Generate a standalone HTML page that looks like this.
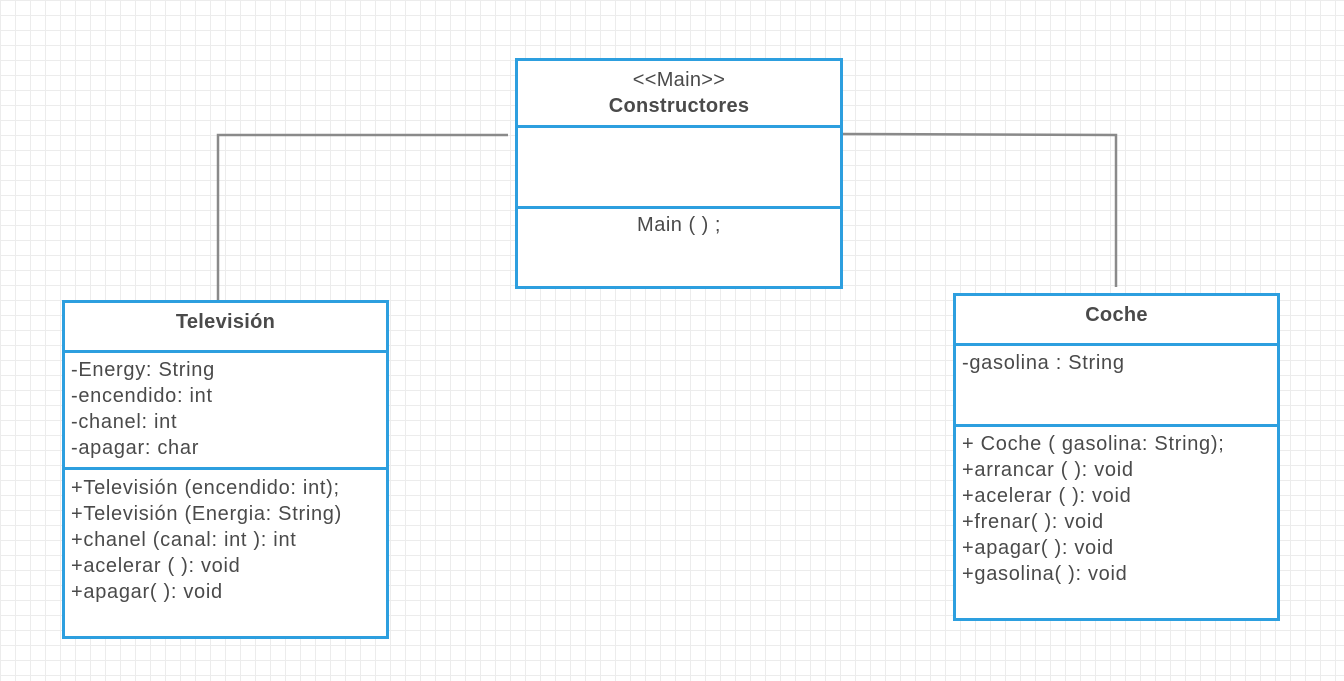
<!DOCTYPE html>
<html><head><meta charset="utf-8"><style>
html,body{margin:0;padding:0}
body{width:1344px;height:681px;position:relative;overflow:hidden;background-color:#fff;
background-image:linear-gradient(#ececec 1px,transparent 1px),linear-gradient(90deg,#ececec 1px,transparent 1px);
background-size:15px 15px;font-family:"Liberation Sans",sans-serif;color:#4a4a4a}
.box{position:absolute;border:3px solid #2d9fdf;background:#fff;box-sizing:border-box}
.div{position:absolute;left:0;right:0;height:3px;background:#2d9fdf}
.t{text-align:center;font-weight:bold;font-size:20px;letter-spacing:0.3px}
.l{font-size:20px;line-height:26px;padding-left:6px;white-space:nowrap;letter-spacing:0.7px}
</style></head><body>
<svg width="1344" height="681" style="position:absolute;left:0;top:0">
<polyline points="508,135 218,135 218,301" fill="none" stroke="#8a8a8a" stroke-width="2.5"/>
<polyline points="843,134 1116,135 1116,287" fill="none" stroke="#8a8a8a" stroke-width="2.5"/>
</svg>

<div class="box" style="left:515px;top:58px;width:328px;height:231px">
<div class="t" style="position:absolute;left:0;right:0;top:6px;line-height:26px;font-weight:normal">&lt;&lt;Main&gt;&gt;</div>
<div class="t" style="position:absolute;left:0;right:0;top:32px;line-height:26px">Constructores</div>
<div class="div" style="top:64px"></div>
<div class="div" style="top:145px"></div>
<div style="position:absolute;left:0;right:0;top:153px;text-align:center;font-size:20px;letter-spacing:0.5px">Main ( ) ;</div>
</div>

<div class="box" style="left:62px;top:300px;width:327px;height:339px">
<div class="t" style="position:absolute;left:0;right:0;top:8px">Televisión</div>
<div class="div" style="top:47px"></div>
<div class="l" style="position:absolute;top:54px">-Energy: String<br>-encendido: int<br>-chanel: int<br>-apagar: char</div>
<div class="div" style="top:164px"></div>
<div class="l" style="position:absolute;top:172px">+Televisión (encendido: int);<br>+Televisión (Energia: String)<br>+chanel (canal: int ): int<br>+acelerar ( ): void<br>+apagar( ): void</div>
</div>

<div class="box" style="left:953px;top:293px;width:327px;height:328px">
<div class="t" style="position:absolute;left:0;right:0;top:8px">Coche</div>
<div class="div" style="top:47px"></div>
<div class="l" style="position:absolute;top:54px">-gasolina : String</div>
<div class="div" style="top:128px"></div>
<div class="l" style="position:absolute;top:135px">+ Coche ( gasolina: String);<br>+arrancar ( ): void<br>+acelerar ( ): void<br>+frenar( ): void<br>+apagar( ): void<br>+gasolina( ): void</div>
</div>
</body></html>
